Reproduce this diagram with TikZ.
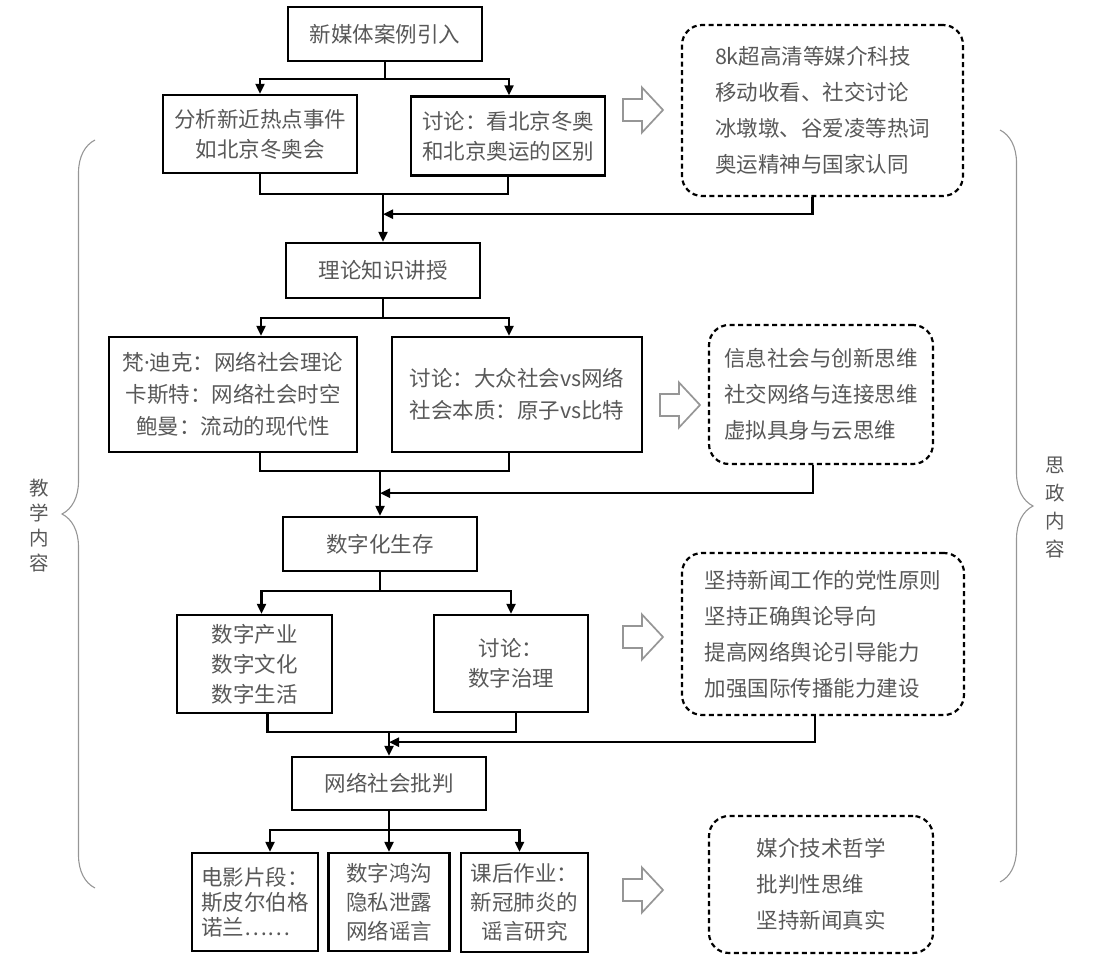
\documentclass[tikz,border=0pt]{standalone}
\usepackage{fontspec}
\setmainfont{Noto Sans CJK SC}
\newfontfamily\latinfont{Noto Sans}
\usepackage{tikz}
\usetikzlibrary{positioning,arrows.meta,decorations.pathreplacing,calc}
\definecolor{inkgray}{RGB}{88,88,88}
\definecolor{bracegray}{RGB}{150,150,150}
\newcommand*{\fs}[1]{\fontsize{21.5pt}{#1pt}\selectfont}

\begin{document}
\begin{tikzpicture}[x=1pt,y=-1pt,on grid,text=inkgray,
    box/.style={draw=black,line width=2.4pt,align=center,inner sep=0pt,font=\fs{30}},
    idea/.style={draw=black,line width=2.2pt,dash pattern=on 5pt off 3.5pt,
      rounded corners=20pt,align=left,inner sep=0pt,font=\fs{36}},
    flow/.style={line width=2.2pt,-{Triangle[length=10pt,width=9pt]}},
    link/.style={line width=2.2pt},
    hollow/.style={draw=bracegray,line width=1.7pt},
    curly/.style={draw=bracegray,line width=1.1pt,decorate,decoration={brace,amplitude=33pt}},
    sidetext/.style={align=center,font=\fontsize{19.5pt}{25pt}\selectfont}]
  \useasboundingbox (0,0) rectangle (1110,968);

  \node[box,minimum width=194pt,minimum height=54pt] (intro) at (385,34) {新媒体案例引入};
  \node[box,minimum width=194pt,minimum height=78pt] (case1) [below left=100pt and 125pt of intro] {分析新近热点事件\\如北京冬奥会};
  \node[box,minimum width=194pt,minimum height=79pt] (case2) [below right=102pt and 123pt of intro] {讨论：看北京冬奥\\和北京奥运的区别};
  \node[idea,minimum width=281pt,minimum height=171pt] (dash1) [below right=76.5pt and 437.5pt of intro] {8k超高清等媒介科技\\移动收看、社交讨论\\冰墩墩、谷爱凌等热词\\奥运精神与国家认同};

  \node[box,minimum width=194pt,minimum height=55pt] (theory) [below=236.5pt of intro,xshift=-2pt] {理论知识讲授};
  \node[box,minimum width=248pt,minimum height=115pt,font=\fs{32}] (theo1) [below left=124pt and 150pt of theory] {梵{\latinfont ·}迪克：网络社会理论\\卡斯特：网络社会时空\\鲍曼：流动的现代性};
  \node[box,minimum width=250pt,minimum height=115pt,font=\fs{32}] (theo2) [below right=124pt and 134pt of theory] {讨论：大众社会vs网络\\社会本质：原子vs比特};
  \node[idea,minimum width=224pt,minimum height=139pt] (dash2) [right=304pt of theo2] {信息社会与创新思维\\社交网络与连接思维\\虚拟具身与云思维};

  \node[box,minimum width=194pt,minimum height=54pt] (digital) [below=273.5pt of theory,xshift=-3pt] {数字化生存};
  \node[box,minimum width=155pt,minimum height=98pt] (dig1) [below left=120pt and 125.5pt of digital] {数字产业\\数字文化\\数字生活};
  \node[box,minimum width=154pt,minimum height=97pt] (dig2) [below right=119.5pt and 131pt of digital] {讨论：\\数字治理};
  \node[idea,minimum width=282pt,minimum height=162pt] (dash3) [above right=29.5pt and 312pt of dig2] {坚持新闻工作的党性原则\\坚持正确舆论导向\\提高网络舆论引导能力\\加强国际传播能力建设};

  \node[box,minimum width=194pt,minimum height=53pt] (critique) [below=239.5pt of digital,xshift=9pt] {网络社会批判};
  \node[box,minimum width=126pt,minimum height=98pt,align=left,font=\fs{25}] (cr1) [below left=118.5pt and 134pt of critique] {电影片段：\\斯皮尔伯格\\诺兰……};
  \node[box,minimum width=121pt,minimum height=98pt,font=\fs{29}] (cr2) [below=118.5pt of critique] {数字鸿沟\\隐私泄露\\网络谣言};
  \node[box,minimum width=127pt,minimum height=99pt,font=\fs{29}] (cr3) [below right=119pt and 135.5pt of critique] {课后作业：\\新冠肺炎的\\谣言研究};
  \node[idea,minimum width=224pt,minimum height=137pt] (dash4) [above right=18pt and 296.5pt of cr3] {媒介技术哲学\\批判性思维\\坚持新闻真实};

  \draw[flow] (intro.south) -- ++(0,17) coordinate (s1) -| (case1.north);
  \draw[flow] (s1) -| ([xshift=1pt]case2.north);
  \draw[link] (case1.south) -- ++(0,20) coordinate (m1) -| (case2.south);
  \draw[flow] (m1 -| theory.north) -- (theory.north);
  \draw[flow] ([xshift=-10pt]dash1.south) |- ($(m1 -| theory.north)+(0,20)$);

  \draw[flow] (theory.south) -- ++(0,19) coordinate (s2) -| ([xshift=28pt]theo1.north);
  \draw[flow] (s2) -| ([xshift=-8pt]theo2.north);
  \draw[link] ([xshift=27pt]theo1.south) -- ++(0,18) coordinate (m2) -| ([xshift=-8pt]theo2.south);
  \draw[flow] (m2 -| digital.north) -- (digital.north);
  \draw[flow] ([xshift=-8pt]dash2.south) |- ($(m2 -| digital.north)+(0,22)$);

  \draw[flow] (digital.south) -- ++(0,19) coordinate (s3) -| ([xshift=7pt]dig1.north);
  \draw[flow] (s3) -| (dig2.north);
  \draw[link] ([xshift=13pt]dig1.south) -- ++(0,18) coordinate (m3) -| ([xshift=5pt]dig2.south);
  \draw[flow] (m3 -| critique.north) -- (critique.north);
  \draw[flow] ([xshift=-8pt]dash3.south) |- ($(m3 -| critique.north)+(0,10)$);

  \draw[flow] (critique.south) -- ++(0,19) coordinate (s4) -| ([xshift=15pt]cr1.north);
  \draw[flow] (s4) -| ([xshift=-5pt]cr3.north);
  \draw[flow] (s4) -- (s4 |- cr2.north);

  \foreach \x/\y in {623/110,660/405,623/637,623/890}
    \draw[hollow] (\x,{\y-11}) -- ++(19,0) -- ++(0,-11.5) -- ++(21,22.5)
      -- ++(-21,22.5) -- ++(0,-11.5) -- ++(-19,0) -- cycle;

  \draw[curly] (95,888) -- (95,140);
  \draw[curly] (1000,130) -- (1000,882);
  \node[sidetext] (teach) at (39,526) {教\\学\\内\\容};
  \node[sidetext,font=\fontsize{19.5pt}{28pt}\selectfont] (ideo) at (1055,508) {思\\政\\内\\容};
\end{tikzpicture}
\end{document}
